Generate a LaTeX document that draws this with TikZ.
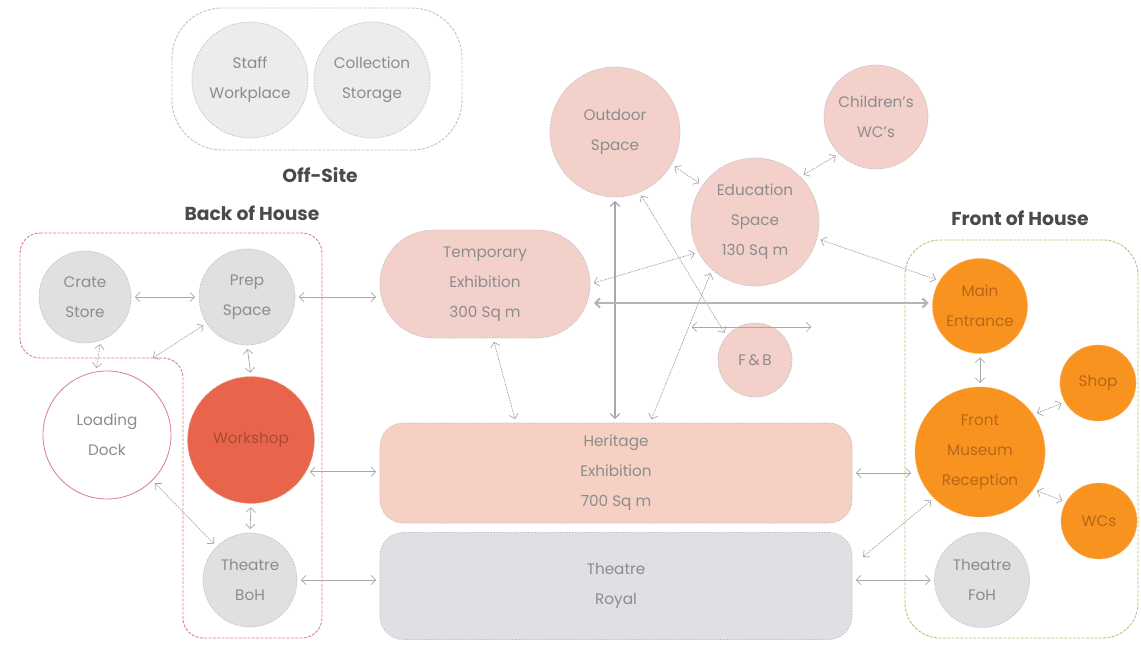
\documentclass[tikz,border=0pt]{standalone}
\usepackage{fontspec}
\setmainfont{Poppins}
\usetikzlibrary{arrows.meta,calc}
\definecolor{cgray}{HTML}{E0E0E2}
\definecolor{clight}{HTML}{ECECEC}
\definecolor{cpink}{HTML}{F3D1CA}
\definecolor{cpeach}{HTML}{F5D0C3}
\definecolor{croyal}{HTML}{DFE0E4}
\definecolor{corange}{HTML}{F7931E}
\definecolor{cred}{HTML}{E8654C}
\definecolor{dashgray}{HTML}{C4C4C4}
\definecolor{txtgray}{HTML}{8C8C8C}
\definecolor{txtorange}{HTML}{B8671A}
\definecolor{txtred}{HTML}{A84A38}
\definecolor{arrowc}{HTML}{A8A8A8}
\definecolor{bohc}{HTML}{D98088}
\definecolor{fohc}{HTML}{CDB978}
\definecolor{titlec}{HTML}{4A4A4A}
\newcommand\mylbl{\fontsize{13}{25.5}\selectfont}
\tikzset{
  room/.style={circle, draw=dashgray, dash pattern=on 1.5pt off 1pt, line width=0.6pt,
    inner sep=0pt, align=center, font=\mylbl, text=txtgray},
  grayc/.style={room, fill=cgray},
  lightc/.style={room, fill=clight},
  pinkc/.style={room, fill=cpink},
  orangec/.style={room, fill=corange, draw=corange!70!white, text=txtorange},
  redc/.style={room, fill=cred, draw=cred!70!white, text=txtred},
  hall/.style={rectangle, draw=dashgray, dash pattern=on 1.5pt off 1pt, line width=0.6pt,
    inner sep=0pt, align=center, font=\mylbl, text=txtgray},
  grp/.style={dash pattern=on 2.5pt off 1.2pt, line width=0.8pt},
  title/.style={font=\fontsize{16}{18}\selectfont\bfseries, text=titlec},
  link/.style={{Straight Barb[length=4pt,width=8pt]}-{Straight Barb[length=4pt,width=8pt]},
    draw=arrowc, line width=0.6pt, shorten >=3pt, shorten <=3pt},
  dlink/.style={link, dash pattern=on 1.5pt off 0.8pt},
  blink/.style={link, line width=1.8pt, draw=arrowc!85!white}
}
\begin{document}
\begin{tikzpicture}[x=0.03cm, y=-0.03cm]
\useasboundingbox (0,0) rectangle (1141,645);

% group outlines
\draw[grp, draw=dashgray, rounded corners=1.5cm] (172,8) rectangle (462,150);
\draw[grp, draw=bohc, rounded corners=0.6cm] (20,233) -- (322,233) -- (322,638) -- (183,638) -- (183,358) -- (20,358) -- cycle;
\draw[grp, draw=fohc, rounded corners=1.05cm] (905,240) rectangle (1138,638);

% titles
\node[title] (toff) at (320,175) {Off-Site};
\node[title] (tboh) at (252,213) {Back of House};
\node[title] (tfoh) at (1020,218) {Front of House};

% off-site
\node[lightc, minimum size=3.48cm] (staff) at (250,80) {Staff\\Workplace};
\node[lightc, minimum size=3.48cm] (coll) at (372,80) {Collection\\Storage};

% back of house
\node[grayc, minimum size=2.76cm] (crate) at (85,297) {Crate\\Store};
\node[grayc, minimum size=2.88cm] (prep) at (247,297) {Prep\\Space};
\node[redc, minimum size=3.8cm] (work) at (251,440) {Workshop};
\node[room, fill=white, draw=bohc, solid, line width=0.7pt, minimum size=3.84cm] (dock) at (107,435) {Loading\\Dock};
\node[grayc, minimum size=2.82cm] (boh) at (250,580) {Theatre\\BoH};

% middle
\node[hall, fill=cpink, minimum width=6.3cm, minimum height=3.24cm, rounded corners=1.6cm] (temp) at (485,284) {Temporary\\Exhibition\\300 Sq m};
\node[hall, fill=cpeach, minimum width=14.16cm, minimum height=3cm, rounded corners=0.7cm] (her) at (616,473) {Heritage\\Exhibition\\700 Sq m};
\node[hall, fill=croyal, minimum width=14.16cm, minimum height=3.21cm, rounded corners=0.7cm] (royal) at (616,586) {Theatre\\Royal};

\node[pinkc, minimum size=3.9cm] (out) at (615,132) {Outdoor\\Space};
\node[pinkc, minimum size=3.12cm] (child) at (876,117) {Children's\\WC's};
\node[pinkc, minimum size=3.84cm] (edu) at (755,222) {Education\\Space\\130 Sq m};
\node[pinkc, minimum size=2.22cm] (fb) at (755,360) {F\,\&\,B};

% front of house
\node[orangec, minimum size=2.85cm] (main) at (980,306) {Main\\Entrance};
\node[orangec, minimum size=3.9cm] (rec) at (980,452) {Front\\Museum\\Reception};
\node[orangec, minimum size=2.28cm] (shop) at (1098,383) {Shop};
\node[orangec, minimum size=2.28cm] (wcs) at (1099,521) {WCs};
\node[grayc, minimum size=2.85cm] (foh) at (982,580) {Theatre\\FoH};

\coordinate (bohcorner) at (150,360);
\coordinate (fbl) at (688,327);
\coordinate (fbr) at (815,327);
\coordinate (hl) at ($(temp.east)+(0,19)$);
\coordinate (her34) at ($(her.north)+(34,0)$);
\coordinate (tmps) at ($(temp.south)+(8,0)$);
\coordinate (hern) at ($(her.north)+(-100,0)$);
\coordinate (royne) at ($(royal.east)+(8,-27)$);

% connectors: back of house
\draw[link] (crate.east) -- (crate.east -| prep.west);
\draw[link] (prep.east) -- (prep.east -| temp.west);
\draw[link] (prep.south) -- (work.north);
\draw[link] (work.south) -- (boh.north);
\draw[dlink] (prep.213) -- (bohcorner);
\draw[dlink] (crate.290) -- (dock.100);
\draw[dlink] (dock.-45) -- (boh.135);
\draw[link] (work.-30) -- (work.-30 -| her.west);
\draw[link] (boh.east) -- (boh.east -| royal.west);

% middle
\draw[dlink] (tmps) -- (hern);
\draw[link, line width=1pt] (out.south) -- (out.south |- her.north);
\draw[dlink] (out.-68) -- (fb.140);
\draw[link] (fbl) -- (fbr);
\draw[dlink] (temp.east) -- (edu.208);
\draw[blink] (hl) -- (hl -| main.west);
\draw[dlink] (her34) -- (edu.228);
\draw[dlink] (out.-30) -- (edu.145);
\draw[dlink] (edu.45) -- (child.225);
\draw[dlink] (edu.-15) -- (main.148);

% front of house
\draw[link] (main.south) -- (rec.north);
\draw[dlink] (rec.35) -- (shop.210);
\draw[dlink] (rec.-35) -- (wcs.150);
\draw[link] (her.east) -- (her.east -| rec.west);
\draw[dlink] (royne) -- (rec.-135);
\draw[link] (foh.west -| royal.east) -- (foh.west);
\end{tikzpicture}
\end{document}
